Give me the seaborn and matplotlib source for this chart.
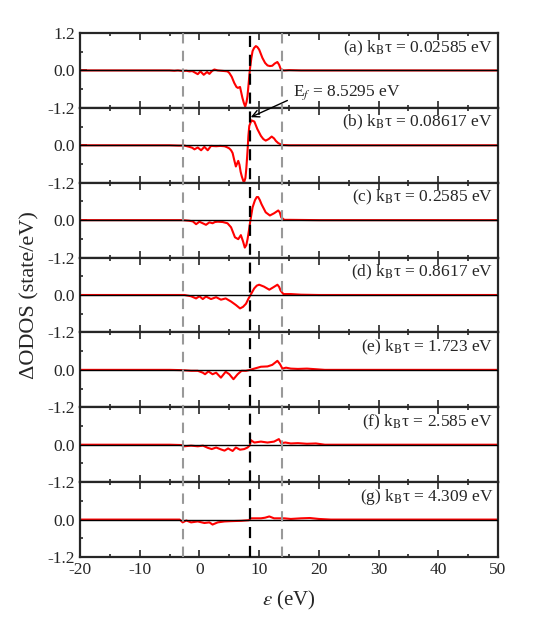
import matplotlib
matplotlib.use("Agg")
import numpy as np
import pandas as pd
import matplotlib.pyplot as plt
from matplotlib.ticker import MultipleLocator, FixedLocator
import seaborn as sns

sns.set_style("ticks")
plt.rcParams["font.family"] = ["Liberation Serif", "DejaVu Serif"]
plt.rcParams["mathtext.fontset"] = "stix"

# panel labels and k_B*tau values
letters = ["a", "b", "c", "d", "e", "f", "g"]
kbt_values = ["0.02585", "0.08617", "0.2585", "0.8617", "1.723", "2.585", "4.309"]

fermi_level = 8.5295
window_lo = -2.8
window_hi = 13.8

# Delta ODOS curves (energy in eV, state/eV)
energy_a = [-20, -5.0, -4.2, -3.6, -2.8, -2.2, -1.67, -1.2, -0.83, -0.28, 0.17, 0.72, 1.28, 1.67,
            2.1, 2.5, 3.06, 3.6, 4.2, 4.7, 5.0, 5.4, 5.83, 6.2, 6.45, 6.8, 7.2, 7.45, 7.67, 7.9,
            8.05, 8.25, 8.45, 8.7, 8.9, 9.15, 9.45, 9.7, 10.0, 10.55, 11.0, 11.4, 11.8, 12.2, 12.6,
            13.05, 13.35, 13.6, 13.9, 14.2, 15.0, 17.0, 20.0, 50]
odos_a = [0, 0, -0.01, 0.0, -0.02, -0.01, -0.03, -0.02, -0.06, -0.12, -0.03, -0.14, -0.05, -0.11,
          -0.02, 0.03, 0.0, -0.01, -0.02, -0.03, -0.08, -0.2, -0.40, -0.53, -0.56, -0.53, -0.88,
          -1.05, -1.16, -1.0, -0.82, -0.4, 0.03, 0.4, 0.62, 0.72, 0.78, 0.75, 0.67, 0.40, 0.24,
          0.16, 0.14, 0.15, 0.22, 0.27, 0.18, 0.05, 0.01, 0.0, 0.01, 0.0, 0.0, 0.0]

energy_b = [-20, -5.0, -3.5, -2.5, -1.67, -1.2, -0.83, -0.28, 0.28, 0.83, 1.39, 1.94, 2.8, 3.5,
            4.2, 4.6, 5.0, 5.3, 5.56, 5.8, 6.1, 6.5, 6.7, 6.9, 7.1, 7.45, 7.7, 7.85, 8.05, 8.2,
            8.35, 8.7, 9.2, 9.7, 10.3, 10.7, 11.1, 11.6, 12.1, 12.5, 12.8, 13.2, 13.6, 14.0, 15.0,
            20.0, 50]
odos_b = [0, 0, -0.01, -0.01, -0.05, -0.08, -0.13, -0.07, -0.16, -0.05, -0.16, -0.02, -0.03,
          -0.02, -0.03, -0.06, -0.1, -0.16, -0.25, -0.45, -0.68, -0.5, -0.62, -0.85, -1.0, -1.2,
          -1.05, -0.75, -0.2, 0.3, 0.62, 0.8, 0.76, 0.52, 0.30, 0.2, 0.15, 0.2, 0.28, 0.22, 0.14,
          0.07, 0.03, 0.01, 0.0, 0.0, 0.0]

energy_c = [-20, -5.0, -2.8, -1.7, -1.1, -0.56, 0.0, 0.55, 1.1, 1.67, 2.2, 2.6, 3.06, 3.9, 4.7,
            5.3, 5.95, 6.5, 6.94, 7.3, 7.6, 7.85, 8.06, 8.3, 8.5, 8.9, 9.3, 9.6, 9.83, 10.1, 10.4,
            11.1, 11.8, 12.5, 13.2, 13.45, 13.7, 14.2, 15.0, 20.0, 50]
odos_c = [0, 0, 0, -0.02, -0.04, -0.13, -0.05, -0.1, -0.15, -0.07, -0.1, -0.06, -0.05, -0.06,
          -0.1, -0.23, -0.55, -0.61, -0.48, -0.68, -0.88, -0.8, -0.61, -0.32, -0.05, 0.41, 0.64,
          0.74, 0.74, 0.65, 0.51, 0.25, 0.15, 0.22, 0.31, 0.25, 0.09, 0.01, 0.01, 0, 0]

energy_d = [-20, -5.0, -2.5, -1.4, -0.56, 0.0, 0.56, 1.1, 1.94, 2.8, 3.6, 4.4, 5.3, 6.1, 6.8, 7.3,
            7.8, 8.2, 8.5, 9.17, 9.6, 10.0, 10.8, 11.7, 12.4, 13.06, 13.35, 13.6, 14.06, 15.3,
            17.0, 20.0, 50]
odos_d = [0, 0, 0, -0.04, -0.11, -0.04, -0.13, -0.05, -0.13, -0.07, -0.15, -0.11, -0.21, -0.32,
          -0.43, -0.38, -0.28, -0.12, -0.02, 0.21, 0.3, 0.33, 0.27, 0.17, 0.25, 0.33, 0.26, 0.14,
          0.03, 0.03, 0.01, 0, 0]

energy_e = [-20, -5.0, -2.8, -1.4, -0.28, 0.56, 0.94, 1.5, 2.2, 2.8, 3.6, 4.4, 5.0, 5.7, 6.4,
            7.06, 7.8, 8.5, 9.2, 10.3, 11.4, 12.2, 13.06, 13.5, 13.9, 14.5, 15.3, 16.5, 18.0,
            19.5, 21.0, 50]
odos_e = [0, 0, -0.01, -0.03, -0.03, -0.09, -0.14, -0.05, -0.14, -0.09, -0.25, -0.06, -0.14,
          -0.3, -0.14, -0.03, -0.03, 0.0, 0.04, 0.10, 0.11, 0.16, 0.29, 0.18, 0.04, 0.07, 0.04,
          0.03, 0.04, 0.02, 0, 0]

energy_f = [-20, -5.0, -3.06, -2.5, -1.4, -0.28, 0.6, 1.4, 2.06, 2.8, 3.6, 4.2, 4.8, 5.56, 6.1,
            6.8, 7.5, 8.06, 8.45, 8.6, 8.8, 9.2, 10.3, 11.4, 12.5, 13.3, 13.7, 14.4, 15.3, 16.5,
            18.0, 19.5, 21.0, 50]
odos_f = [0, 0, -0.01, -0.05, -0.03, -0.05, -0.03, -0.1, -0.14, -0.09, -0.15, -0.19, -0.12,
          -0.2, -0.09, -0.16, -0.14, -0.09, -0.02, 0.15, 0.12, 0.07, 0.1, 0.07, 0.1, 0.18, 0.05,
          0.07, 0.04, 0.05, 0.03, 0.04, 0.0, 0]

energy_g = [-20, -5.0, -3.3, -2.8, -2.2, -1.4, -0.28, 0.83, 1.67, 2.2, 3.06, 4.2, 5.3, 7.0, 8.3,
            8.6, 10.3, 11.0, 11.7, 12.5, 14.2, 15.3, 17.0, 18.5, 20.0, 22.0, 50]
odos_g = [0, 0, 0, -0.09, -0.03, -0.09, -0.06, -0.11, -0.09, -0.16, -0.09, -0.06, -0.05, -0.04,
          -0.02, 0.04, 0.04, 0.06, 0.1, 0.04, 0.04, 0.02, 0.04, 0.05, 0.02, 0, 0]

energies = [energy_a, energy_b, energy_c, energy_d, energy_e, energy_f, energy_g]
odos = [odos_a, odos_b, odos_c, odos_d, odos_e, odos_f, odos_g]

frames = []
for letter, e, y in zip(letters, energies, odos):
    frames.append(pd.DataFrame({"panel": letter, "energy": e, "odos": y}))
df = pd.concat(frames, ignore_index=True)

fig, axes = plt.subplots(7, 1, sharex=True, figsize=(5.34, 6.18), dpi=100,
                         gridspec_kw={"hspace": 0})
fig.subplots_adjust(left=80 / 534, right=498 / 534, top=1 - 33 / 618, bottom=1 - 557 / 618)

for i, (ax, letter, kbt) in enumerate(zip(axes, letters, kbt_values)):
    sub = df[df["panel"] == letter]
    sns.lineplot(data=sub, x="energy", y="odos", ax=ax, color="red", lw=1.5,
                 estimator=None, sort=False, zorder=2)
    ax.axhline(0, color="black", lw=1.0, zorder=3)
    ax.set_xlim(-20, 50)
    ax.set_ylim(-1.2, 1.2)
    ax.set_yticks([-1.2, 0.0, 1.2])
    if i == 0:
        ax.set_yticklabels(["-1.2", "0.0", "1.2"])
    else:
        ax.set_yticklabels(["-1.2", "0.0", ""])
    ax.yaxis.set_minor_locator(FixedLocator([-0.6, 0.6]))
    ax.xaxis.set_major_locator(MultipleLocator(10))
    ax.xaxis.set_minor_locator(MultipleLocator(5))
    ax.tick_params(which="both", direction="in", top=True, right=False, labelsize=12.5, width=1.2)
    ax.tick_params(which="major", length=5)
    ax.tick_params(which="minor", length=2.5)
    ax.set_xlabel("")
    ax.set_ylabel("")
    for s in ax.spines.values():
        s.set_linewidth(1.6)
    ax.text(0.988, 0.8, rf"({letter}) k$_\mathrm{{B}}$τ = {kbt} eV", transform=ax.transAxes,
            ha="right", va="center", fontsize=12.5)

axes[-1].set_xticks(range(-20, 51, 10))
axes[-1].set_xticklabels([str(v) for v in range(-20, 51, 10)])

# dashed guide lines spanning all panels
ov = fig.add_axes(axes[0].get_position().union([a.get_position() for a in axes]))
ov.set_xlim(-20, 50)
ov.set_ylim(0, 1)
ov.axis("off")
ov.patch.set_alpha(0)
ov.axvline(window_lo, color="#999999", lw=1.5, ls=(0, (5, 3.5)))
ov.axvline(window_hi, color="#999999", lw=1.5, ls=(0, (5, 3.5)))
ov.axvline(fermi_level, color="black", lw=1.6, ls=(0, (5, 3.5)))

axes[1].annotate(r"E$_f$ = 8.5295 eV", xy=(8.6, 0.9), xytext=(15.7, 1.7),
                 ha="left", va="center", fontsize=12.5, annotation_clip=False, zorder=10,
                 arrowprops=dict(arrowstyle="->", color="black", lw=1.0,
                                 relpos=(0, 0.2), shrinkA=2, shrinkB=0))

fig.text(0.056, 0.523, "ΔODOS (state/eV)", rotation=90, ha="center", va="center", fontsize=16)
fig.text(289 / 534, 1 - 600 / 618, r"$\varepsilon$ (eV)", ha="center", va="center", fontsize=15)

fig.savefig("out.png", dpi=100)
